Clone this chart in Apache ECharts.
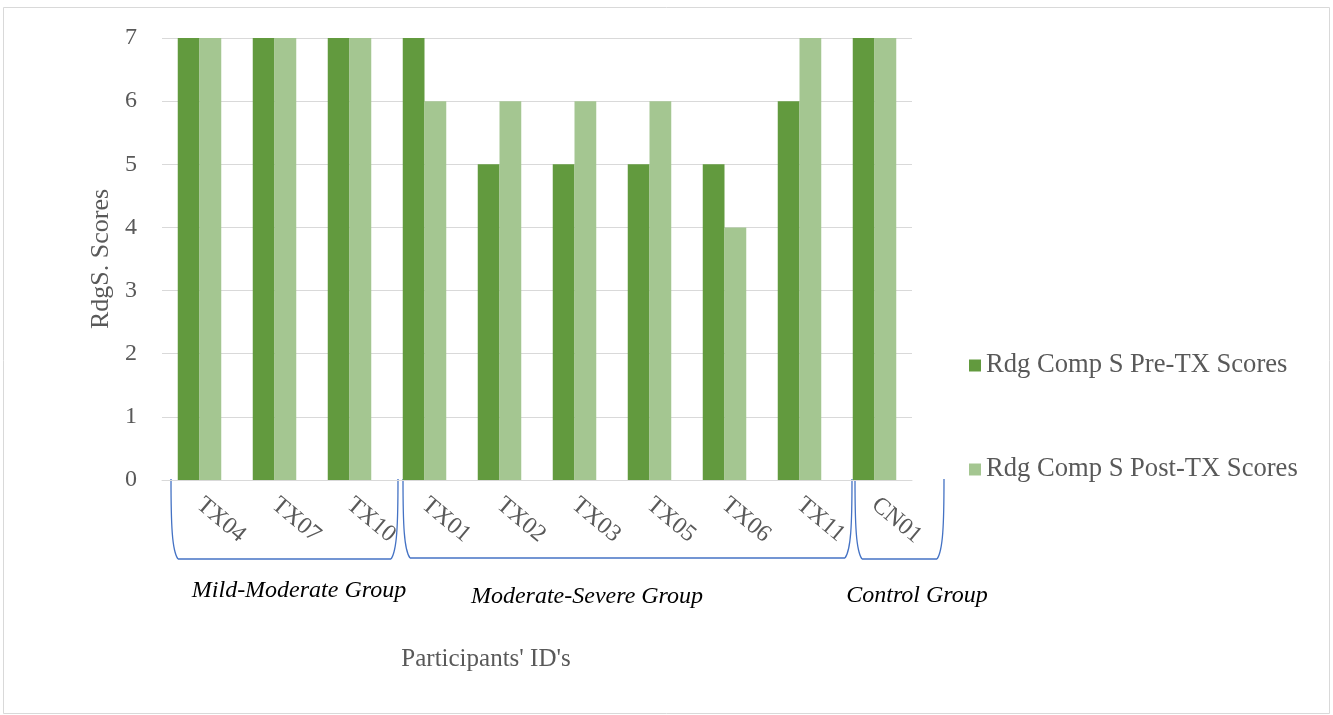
<!DOCTYPE html>
<html>
<head>
<meta charset="utf-8">
<script src="https://cdn.jsdelivr.net/npm/echarts@6/dist/echarts.min.js"></script>
<style>
  html, body { margin: 0; padding: 0; background: #ffffff; }
  #chart { width: 1333px; height: 715px; }
</style>
</head>
<body>
<div id="chart"></div>
<script>
// Participant IDs along the category axis
const participants = ['TX04', 'TX07', 'TX10', 'TX01', 'TX02', 'TX03', 'TX05', 'TX06', 'TX11', 'CN01'];
// Reading comprehension scores before and after treatment
const preScores = [7, 7, 7, 7, 5, 5, 5, 5, 6, 7];
const postScores = [7, 7, 7, 6, 6, 6, 6, 4, 7, 7];
// Value axis ticks
const yTicks = [0, 1, 2, 3, 4, 5, 6, 7];
// Group captions under the brackets
const groupNames = ['Mild-Moderate Group', 'Moderate-Severe Group', 'Control Group'];

const serif = '"Liberation Serif", "Times New Roman", serif';
const grey = '#595959';
const preColor = '#629A3E';
const postColor = '#A4C691';

const chart = echarts.init(document.getElementById('chart'));

const bracketStyle = { stroke: '#4472C4', lineWidth: 1.3, fill: null };

// Curly bracket built from two curved sides and a flat bottom
function bracket(x1, x2, top, bottom) {
  return [
    { type: 'bezierCurve', silent: true, style: bracketStyle,
      shape: { x1: x1, y1: top, cpx1: x1, cpy1: top + 45, cpx2: x1 + 1, cpy2: bottom - 8, x2: x1 + 7, y2: bottom } },
    { type: 'line', silent: true, style: bracketStyle,
      shape: { x1: x1 + 7, y1: bottom, x2: x2 - 7, y2: bottom } },
    { type: 'bezierCurve', silent: true, style: bracketStyle,
      shape: { x1: x2 - 7, y1: bottom, cpx1: x2 - 1, cpy1: bottom - 8, cpx2: x2, cpy2: top + 45, x2: x2, y2: top } }
  ];
}

function caption(text, x, y) {
  return { type: 'text', x: x, y: y, silent: true,
    style: { text: text, font: 'italic 24px ' + serif, fill: '#000000', textAlign: 'center', textVerticalAlign: 'middle' } };
}

chart.setOption({
  animation: false,
  backgroundColor: '#ffffff',
  grid: { left: 162, right: 421, top: 38, bottom: 235, containLabel: false },
  legend: {
    orient: 'vertical',
    left: 964,
    top: 347,
    itemWidth: 12,
    itemHeight: 12,
    itemGap: 77,
    icon: 'rect',
    textStyle: { fontFamily: serif, fontSize: 26.6, color: grey },
    data: ['Rdg Comp S Pre-TX Scores', 'Rdg Comp S Post-TX Scores']
  },
  xAxis: {
    type: 'category',
    data: participants,
    axisLine: { lineStyle: { color: '#d9d9d9', width: 1 } },
    axisTick: { show: false },
    axisLabel: {
      rotate: -40,
      margin: 22,
      fontFamily: serif,
      fontSize: 24,
      color: grey
    }
  },
  yAxis: {
    type: 'value',
    min: 0,
    max: 7,
    interval: 1,
    name: 'RdgS. Scores',
    nameLocation: 'middle',
    nameGap: 42,
    nameTextStyle: { fontFamily: serif, fontSize: 26, color: grey },
    axisLine: { show: false },
    axisTick: { show: false },
    splitLine: { lineStyle: { color: '#d9d9d9', width: 1 } },
    axisLabel: {
      fontFamily: serif,
      fontSize: 24,
      color: grey,
      margin: 25,
      formatter: v => (yTicks.indexOf(v) >= 0 ? String(v) : '')
    }
  },
  series: [
    {
      name: 'Rdg Comp S Pre-TX Scores',
      type: 'bar',
      data: preScores,
      barGap: '0%',
      barCategoryGap: '42%',
      itemStyle: { color: preColor }
    },
    {
      name: 'Rdg Comp S Post-TX Scores',
      type: 'bar',
      data: postScores,
      itemStyle: { color: postColor }
    }
  ],
  graphic: [].concat(
    // outer frame
    [{ type: 'rect', silent: true, shape: { x: 3.5, y: 7.5, width: 1326, height: 706 }, style: { fill: null, stroke: '#d9d9d9', lineWidth: 1 } }],
    // group brackets
    bracket(171, 398, 479, 559),
    bracket(403, 852, 479, 558),
    bracket(855, 944, 479, 559),
    // group captions
    [caption(groupNames[0], 299, 591), caption(groupNames[1], 587, 597), caption(groupNames[2], 917, 596)],
    // horizontal axis title
    [{ type: 'text', x: 486, y: 659, silent: true,
       style: { text: "Participants' ID's", font: '25px ' + serif, fill: grey, textAlign: 'center', textVerticalAlign: 'middle' } }]
  )
});
</script>
</body>
</html>
